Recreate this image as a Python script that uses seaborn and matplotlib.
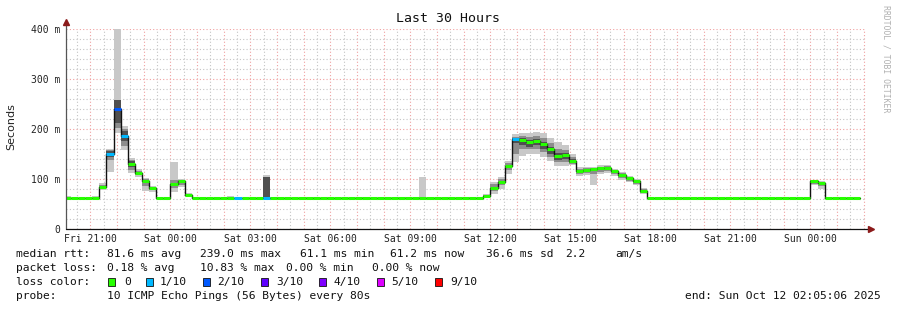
import matplotlib
matplotlib.use("Agg")
import numpy as np
import pandas as pd
import seaborn as sns
import matplotlib.pyplot as plt
import matplotlib.dates as mdates
from matplotlib.ticker import MultipleLocator, FuncFormatter
from matplotlib.patches import Rectangle

# ---------------- data (16-minute consolidated bins from Fri 20:00) ----------------
median_ms = [
    61.1, 61.1, 61.1, 61.1, 63, 85, 150, 240,
    186, 131, 112, 97, 83, 61.1, 61.1, 91,
    97, 69, 61.1, 61.1, 61.1, 61.1, 61.1, 61.1,
    61.1, 61.1, 61.1, 61.1, 61.1, 63, 61.1, 61.1,
    61.1, 61.1, 61.1, 63, 61.1, 63, 61.1, 61.1,
    61.1, 61.1, 61.1, 61.1, 61.1, 61.1, 61.1, 61.1,
    63, 61.1, 61.1, 61.1, 61.1, 61.1, 61.1, 61.1,
    63, 63, 61.1, 66, 83, 95, 127, 180,
    178, 174, 176, 170, 160, 147, 149, 137,
    117, 118, 120, 122, 122, 116, 109, 102,
    96, 77, 61.1, 61.1, 61.1, 61.1, 61.1, 61.1,
    61.1, 61.1, 61.1, 61.1, 61.1, 61.1, 61.1, 61.1,
    61.1, 61.1, 61.1, 61.1, 61.1, 61.1, 61.1, 61.1,
    61.1, 96, 92, 63, 61.1, 61.1, 61.1, 61.1,
]
loss_bins = [6, 7, 8, 24, 28, 63]
loss_level = [1, 2, 1, 1, 1, 1]

smoke_bins = [0, 4, 5, 6, 7, 8, 9, 10, 11, 12, 15, 16, 17, 18, 19, 23, 28, 29, 30,
              34, 35, 37, 42, 47, 48, 50, 54, 56, 57, 59, 60, 61, 62, 63, 64, 65,
              66, 67, 68, 69, 70, 71, 72, 73, 74, 75, 76, 77, 78, 79, 80, 81,
              101, 105, 106, 107, 109, 111]
smoke_lo = [61, 61, 78, 115, 192, 158, 113, 105, 77, 75, 74, 85, 64, 61, 61, 61, 61, 61, 61,
            61, 61, 61, 61, 61, 61, 61, 61, 61, 61, 62, 70, 81, 111, 134, 147, 150,
            150, 145, 137, 126, 126, 128, 106, 108, 89, 110, 113, 107, 98, 94, 88, 70,
            61, 88, 80, 61, 61, 61]
smoke_hi = [67, 66, 92, 161, 400, 206, 143, 120, 103, 86, 135, 101, 73, 64, 64, 66, 108, 65, 64,
            64, 65, 65, 64, 64, 65, 105, 64, 65, 65, 71, 94, 104, 137, 190, 192, 192,
            194, 192, 182, 174, 168, 150, 124, 124, 125, 128, 129, 121, 114, 106, 100, 83,
            64, 99, 96, 64, 64, 64]
core_lo = [61, 61, 80, 138, 202, 166, 119, 108, 87, 78, 82, 89, 66, 61, 61, 61, 61, 61, 61,
           61, 61, 61, 61, 61, 61, 61, 61, 61, 61, 64, 76, 88, 118, 150, 160, 160,
           160, 155, 145, 135, 135, 131, 111, 113, 110, 115, 117, 111, 103, 97, 91, 73,
           61, 90, 86, 61, 61, 61]
core_hi = [61, 61, 88, 158, 258, 200, 139, 117, 101, 85, 98, 99, 71, 61, 61, 61, 104, 61, 61,
           61, 61, 61, 61, 61, 61, 61, 61, 61, 61, 68, 90, 100, 133, 184, 186, 184,
           186, 182, 172, 160, 158, 145, 121, 122, 123, 125, 126, 119, 112, 105, 99, 80,
           61, 98, 94, 61, 61, 61]
dark_bins = [6, 7, 8, 9, 28, 63, 64, 65, 66, 67, 68, 69, 70, 71]
dark_lo = [145, 212, 176, 124, 61, 172, 168, 165, 168, 160, 150, 138, 140, 133]
dark_hi = [156, 258, 196, 136, 104, 182, 182, 178, 180, 174, 165, 152, 152, 141]

loss_labels = ["0", "1/10", "2/10", "3/10", "4/10", "5/10", "9/10"]
loss_colors = ["#26ff00", "#00b8ff", "#0059ff", "#5e00ff", "#7e00ff", "#dd00ff", "#ff0000"]

x_start, x_end = "2025-10-10 20:05:06", "2025-10-12 02:05:06"
bin_freq = "16min"

# ---------------- figure ----------------
sns.set_style("white")
plt.rcParams["font.family"] = ["DejaVu Sans Mono", "DejaVu Sans"]

W, H = 897, 310
fig = plt.figure(figsize=(W / 100, H / 100), dpi=100)
L, R, T, B = 66, 866, 29, 229
ax = fig.add_axes([L / W, 1 - B / H, (R - L) / W, (B - T) / H])

times = pd.date_range("2025-10-10 20:00", periods=len(median_ms), freq=bin_freq)
tnum = mdates.date2num(times)
bw = tnum[1] - tnum[0]

def band(bins, lo, hi, color, z):
    lo = np.array(lo, float)
    hi = np.array(hi, float)
    ax.bar(tnum[bins], hi - lo, bottom=lo, width=bw, align="edge", color=color,
           linewidth=0, zorder=z)

band(smoke_bins, smoke_lo, smoke_hi, "#c8c8c8", 2)
band(smoke_bins, core_lo, core_hi, "#8c8c8c", 3)
band(dark_bins, dark_lo, dark_hi, "#505050", 3.5)

# median step line (black connectors)
step_df = pd.DataFrame({
    "t": list(times) + [times[-1] + pd.Timedelta(bin_freq)],
    "rtt": list(median_ms) + [median_ms[-1]],
})
sns.lineplot(data=step_df, x="t", y="rtt", drawstyle="steps-post", color="#111111",
             linewidth=1.0, ax=ax, zorder=4)

# coloured median segments by loss
loss = np.zeros(len(median_ms), int)
loss[loss_bins] = loss_level
level_to_idx = {0: 0, 1: 1, 2: 2, 3: 3, 4: 4, 5: 5, 9: 6}
seg_colors = [loss_colors[level_to_idx.get(l, 6)] for l in loss]
ax.hlines(median_ms, tnum, tnum + bw, colors=seg_colors, linewidth=2.2, zorder=5)

ax.set_xlim(pd.Timestamp(x_start), pd.Timestamp(x_end))
ax.set_ylim(0, 400)
ax.set_xlabel("")
ax.set_ylabel("")

# grid & ticks
ax.xaxis.set_major_locator(mdates.HourLocator())
ax.xaxis.set_minor_locator(mdates.MinuteLocator(byminute=[30]))
def xfmt(v, pos):
    d = mdates.num2date(v)
    return d.strftime("%a %H:%M") if d.hour % 3 == 0 else ""
ax.xaxis.set_major_formatter(FuncFormatter(xfmt))
ax.yaxis.set_major_locator(MultipleLocator(100))
ax.yaxis.set_minor_locator(MultipleLocator(20))
ax.yaxis.set_major_formatter(FuncFormatter(lambda v, p: "0" if v == 0 else f"{int(v)} m"))

dot = (0, (1, 2))
ax.grid(which="minor", color="#c4c4c4", linestyle=dot, linewidth=0.8, zorder=1)
ax.grid(which="major", color="#f0a0a0", linestyle=dot, linewidth=0.8, zorder=1)
ax.set_axisbelow(True)

ax.tick_params(axis="x", which="major", direction="inout", length=4, width=0.8,
               color="#e06060", labelsize=7, pad=1.5)
ax.tick_params(axis="x", which="minor", length=0)
ax.tick_params(axis="y", which="major", direction="inout", length=4, width=0.8,
               color="#666666", labelsize=7, pad=2)
ax.tick_params(axis="y", which="minor", direction="inout", length=2.5, width=0.6,
               color="#888888")
for lab in ax.get_xticklabels() + ax.get_yticklabels():
    lab.set_family("DejaVu Sans Mono")
    lab.set_color("#222222")

for s in ax.spines.values():
    s.set_visible(False)
# axes lines with arrows
ax.plot([0, 0], [0, 1.035], transform=ax.transAxes, color="#555555", lw=0.9, clip_on=False, zorder=6)
ax.plot([0, 1.006], [0, 0], transform=ax.transAxes, color="#111111", lw=0.9, clip_on=False, zorder=6)
ax.plot([0], [1.035], transform=ax.transAxes, marker="^", markersize=4, color="#8b1a1a",
        clip_on=False, zorder=7)
ax.plot([1.006], [0], transform=ax.transAxes, marker=">", markersize=4, color="#8b1a1a",
        clip_on=False, zorder=7)

def fx(x):
    return x / W
def fy(y):
    return 1 - y / H

fig.text(fx(448), fy(19), "Last 30 Hours", ha="center", va="center", fontsize=9.5,
         family="DejaVu Sans Mono", color="#111111")
fig.text(fx(11), fy(127), "Seconds", rotation=90, ha="center", va="center", fontsize=8,
         family="DejaVu Sans", color="#222222")
fig.text(fx(886), fy(5), "RRDTOOL / TOBI OETIKER", rotation=270, ha="center", va="top",
         fontsize=5.9, family="DejaVu Sans Mono", color="#b0b0b0")

fs = 8.1
def t(x, y, s, ha="left"):
    fig.text(fx(x), fy(y), s, ha=ha, va="center", fontsize=fs, family="DejaVu Sans Mono",
             color="#111111")

y1, y2, y3, y4 = 254, 268, 282, 296
t(16, y1, "median rtt:")
t(107, y1, "81.6 ms avg")
t(200, y1, "239.0 ms max")
t(300, y1, "61.1 ms min")
t(390, y1, "61.2 ms now")
t(486, y1, "36.6 ms sd")
t(565, y1, "2.2")
t(615, y1, "am/s")

t(16, y2, "packet loss:")
t(107, y2, "0.18 % avg")
t(200, y2, "10.83 % max")
t(286, y2, "0.00 % min")
t(372, y2, "0.00 % now")

t(16, y3, "loss color:")
sq_x = [108, 146, 203, 261, 319, 377, 435]
lab_x = [124, 160, 217, 276, 333, 391, 450]
for sx, lx, lab, col in zip(sq_x, lab_x, loss_labels, loss_colors):
    fig.patches.append(Rectangle((fx(sx), fy(y3 + 4)), 7 / W, 8 / H, transform=fig.transFigure,
                                 facecolor=col, edgecolor="#111111", linewidth=0.6))
    t(lx, y3, lab)

t(16, y4, "probe:")
t(107, y4, "10 ICMP Echo Pings (56 Bytes) every 80s")
t(881, y4, "end: Sun Oct 12 02:05:06 2025", ha="right")

fig.savefig("out.png", dpi=100, facecolor="white")
